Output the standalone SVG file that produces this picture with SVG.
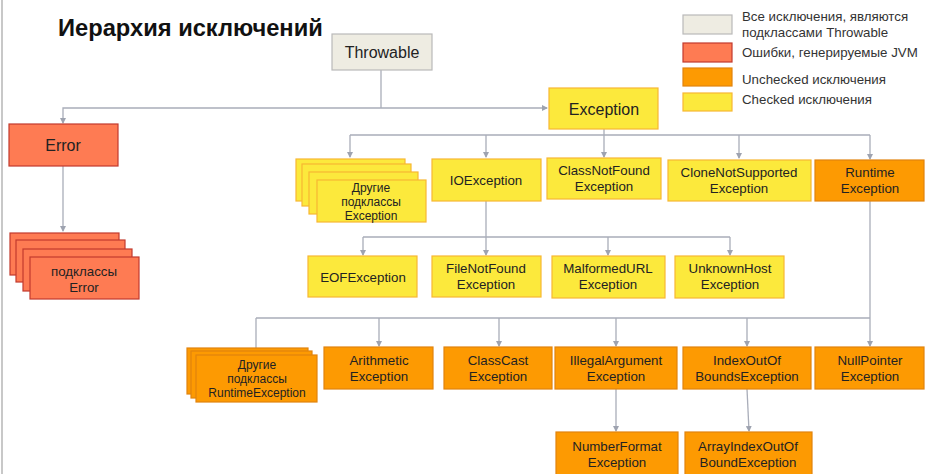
<svg xmlns="http://www.w3.org/2000/svg" width="935" height="474" viewBox="0 0 935 474">
<defs>
<marker id="ah" markerWidth="6" markerHeight="6" refX="5" refY="3" orient="auto" markerUnits="userSpaceOnUse">
<path d="M0,0 L6,3 L0,6 Z" fill="#9ea3b0"/>
</marker>
<style>
text{font-family:"Liberation Sans","DejaVu Sans",sans-serif;fill:#222;text-anchor:middle}
.t{font-size:13.3px}
.s{font-size:12px}
.big{font-size:16px}
.lg{font-size:13.3px;text-anchor:start;fill:#333}
.y{fill:#fce93c;stroke:#f7b733;stroke-width:1.2}
.o{fill:#fd9a02;stroke:#e2840e;stroke-width:1.2}
.r{fill:#fe7b53;stroke:#c23a2e;stroke-width:1.2}
.b{fill:#eeece2;stroke:#b9b9b9;stroke-width:1.2}
.c{fill:none;stroke:#a9adb9;stroke-width:1.3}
.a{fill:none;stroke:#a9adb9;stroke-width:1.3;marker-end:url(#ah)}
</style>
</defs>
<rect width="935" height="474" fill="#fff"/>
<line x1="2" y1="0" x2="2" y2="474" stroke="#c8c8c8" stroke-width="2"/>
<text x="58" y="36" style="font-size:23.7px;font-weight:bold;text-anchor:start;fill:#111">Иерархия исключений</text>

<g id="legend">
<rect class="b" x="683" y="15" width="49" height="19"/>
<rect class="r" x="683" y="43" width="49" height="19"/>
<rect class="o" x="683" y="68" width="49" height="18"/>
<rect class="y" x="683" y="93" width="49" height="18"/>
<text class="lg" x="742" y="21">Все исключения, являются</text>
<text class="lg" x="742" y="37">подклассами Throwable</text>
<text class="lg" x="742" y="57">Ошибки, генерируемые JVM</text>
<text class="lg" x="742" y="84">Unchecked исключения</text>
<text class="lg" x="742" y="104">Checked исключения</text>
</g>

<g id="connectors">
<polyline class="c" points="381,70 381,108"/>
<polyline class="a" points="381,108 63,108 63,123"/>
<polyline class="a" points="381,108 547,108"/>
<polyline class="a" points="63,166 63,231"/>
<polyline class="c" points="604,129 604,135"/>
<polyline class="a" points="350,135 350,157"/>
<polyline class="c" points="350,135 870,135"/>
<polyline class="a" points="486,135 486,157"/>
<polyline class="a" points="604,135 604,157"/>
<polyline class="a" points="739,135 739,158"/>
<polyline class="a" points="870,135 870,159"/>
<polyline class="a" points="486,201 486,255"/>
<polyline class="c" points="363,237 730,237"/>
<polyline class="a" points="363,237 363,255"/>
<polyline class="a" points="608,237 608,255"/>
<polyline class="a" points="730,237 730,255"/>
<polyline class="a" points="870,201 870,346"/>
<polyline class="c" points="256,318 870,318"/>
<polyline class="a" points="256,318 256,353"/>
<polyline class="a" points="379,318 379,346"/>
<polyline class="a" points="499,318 499,346"/>
<polyline class="a" points="616,318 616,346"/>
<polyline class="a" points="747,318 747,346"/>
<polyline class="a" points="616,389 616,431"/>
<polyline class="a" points="747,389 749,431"/>
</g>

<g id="throwable">
<rect class="b" x="332" y="34" width="100" height="36"/>
<text class="big" x="382" y="58">Throwable</text>
</g>
<g id="error">
<rect class="r" x="9" y="124" width="109" height="42"/>
<text class="big" x="63" y="151">Error</text>
</g>
<g id="error-subclasses">
<rect class="r" x="10" y="233" width="109" height="42"/>
<rect class="r" x="16" y="240" width="109" height="42"/>
<rect class="r" x="23" y="249" width="109" height="42"/>
<rect class="r" x="30" y="257" width="109" height="42"/>
<text class="t" x="84" y="276">подклассы</text>
<text class="t" x="84" y="292">Error</text>
</g>
<g id="exception">
<rect class="y" x="549" y="88" width="109" height="41"/>
<text class="big" x="604" y="115">Exception</text>
</g>
<g id="other-exception">
<rect class="y" x="296" y="159" width="109" height="42"/>
<rect class="y" x="302" y="164" width="109" height="42"/>
<rect class="y" x="309" y="172" width="109" height="42"/>
<rect class="y" x="317" y="180" width="109" height="42"/>
<text class="s" x="371" y="192">Другие</text>
<text class="s" x="371" y="206">подклассы</text>
<text class="s" x="371" y="220">Exception</text>
</g>
<g id="ioexception">
<rect class="y" x="432" y="159" width="109" height="42"/>
<text class="t" x="486" y="185">IOException</text>
</g>
<g id="classnotfound">
<rect class="y" x="547" y="158" width="114" height="41"/>
<text class="t" x="604" y="175">ClassNotFound</text>
<text class="t" x="604" y="191">Exception</text>
</g>
<g id="clonenotsupported">
<rect class="y" x="668" y="160" width="143" height="41"/>
<text class="t" x="739" y="177">CloneNotSupported</text>
<text class="t" x="739" y="193">Exception</text>
</g>
<g id="runtime">
<rect class="o" x="815" y="160" width="109" height="41"/>
<text class="t" x="870" y="177">Runtime</text>
<text class="t" x="870" y="193">Exception</text>
</g>
<g id="eof">
<rect class="y" x="308" y="256" width="109" height="41"/>
<text class="t" x="363" y="282">EOFException</text>
</g>
<g id="filenotfound">
<rect class="y" x="432" y="256" width="109" height="41"/>
<text class="t" x="486" y="273">FileNotFound</text>
<text class="t" x="486" y="289">Exception</text>
</g>
<g id="malformedurl">
<rect class="y" x="552" y="256" width="113" height="42"/>
<text class="t" x="608" y="273">MalformedURL</text>
<text class="t" x="608" y="289">Exception</text>
</g>
<g id="unknownhost">
<rect class="y" x="675" y="256" width="109" height="42"/>
<text class="t" x="730" y="273">UnknownHost</text>
<text class="t" x="730" y="289">Exception</text>
</g>
<g id="other-runtime">
<rect class="o" x="187" y="348" width="121" height="46"/>
<rect class="o" x="191" y="351" width="121" height="47"/>
<rect class="o" x="196" y="355" width="121" height="47"/>
<text class="s" x="257" y="369">Другие</text>
<text class="s" x="257" y="383">подклассы</text>
<text class="s" x="257" y="397">RuntimeException</text>
</g>
<g id="arithmetic">
<rect class="o" x="324" y="347" width="109" height="42"/>
<text class="t" x="379" y="365">Arithmetic</text>
<text class="t" x="379" y="381">Exception</text>
</g>
<g id="classcast">
<rect class="o" x="444" y="347" width="108" height="42"/>
<text class="t" x="498" y="365">ClassCast</text>
<text class="t" x="498" y="381">Exception</text>
</g>
<g id="illegalargument">
<rect class="o" x="555" y="347" width="122" height="42"/>
<text class="t" x="616" y="365">IllegalArgument</text>
<text class="t" x="616" y="381">Exception</text>
</g>
<g id="indexoutofbounds">
<rect class="o" x="683" y="347" width="128" height="42"/>
<text class="t" x="747" y="365">IndexOutOf</text>
<text class="t" x="747" y="381">BoundsException</text>
</g>
<g id="nullpointer">
<rect class="o" x="815" y="347" width="109" height="42"/>
<text class="t" x="870" y="365">NullPointer</text>
<text class="t" x="870" y="381">Exception</text>
</g>
<g id="numberformat">
<rect class="o" x="556" y="432" width="122" height="46"/>
<text class="t" x="617" y="451">NumberFormat</text>
<text class="t" x="617" y="467">Exception</text>
</g>
<g id="arrayindex">
<rect class="o" x="685" y="432" width="127" height="46"/>
<text class="t" x="748" y="451">ArrayIndexOutOf</text>
<text class="t" x="748" y="467">BoundException</text>
</g>
</svg>
